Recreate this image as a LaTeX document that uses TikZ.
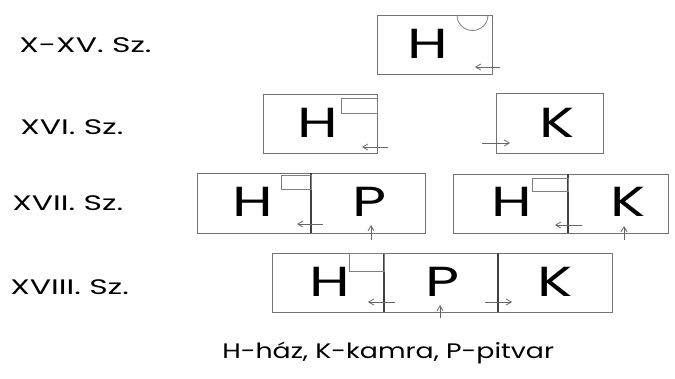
\documentclass[tikz,border=0pt]{standalone}
\usepackage{fontspec}
\setmainfont{Poppins}
\usetikzlibrary{arrows.meta}
\tikzset{
    room/.style={draw=black!55, line width=0.9pt, inner sep=0pt},
    letter/.style={inner sep=0pt, font=\fontsize{42}{42}\selectfont, xscale=1.4},
    nook/.style={draw=black!50, line width=0.8pt},
    wall/.style={draw=black!75, line width=1.1pt},
    door/.style={draw=black!60, line width=0.8pt, -{Straight Barb[length=5pt,width=6pt]}},
    era/.style={anchor=west, inner sep=0pt, font=\fontsize{21}{21}\selectfont, xscale=1.5},
}
\begin{document}
\begin{tikzpicture}[x=1pt,y=-1pt]
        \useasboundingbox (0,0) rectangle (675,378);
        % korszakok
        \node[era] (e1) at (19,45) {X-XV. Sz.};
        \node[era] (e2) at (20,127) {XVI. Sz.};
        \node[era] (e3) at (12,203) {XVII. Sz.};
        \node[era] (e4) at (10,287) {XVIII. Sz.};
        % X-XV.
        \node[room, minimum width=115, minimum height=59] (h1) at (434.5,44.5) {};
        \node[letter] (h1l) at (428,44) {H};
        \draw[nook] (457,15) arc[start angle=180, end angle=0, radius=15.5];
        \coordinate (d1) at (500,67);
        \draw[door] (d1) -- (475,67);
        % XVI.
        \node[room, minimum width=114, minimum height=59] (h2) at (320,123.5) {};
        \node[letter] (h2l) at (318,123) {H};
        \draw[nook] (341,98) rectangle (377,113);
        \coordinate (d2) at (388,147);
        \draw[door] (d2) -- (362,147);
        \node[room, minimum width=107, minimum height=60] (k2) at (549.5,123) {};
        \node[letter] (k2l) at (557,123) {K};
        \coordinate (d3) at (482,143);
        \draw[door] (d3) -- (510,143);
        % XVII.
        \node[room, minimum width=228, minimum height=60] (hp3) at (311,203) {};
        \draw[wall] (hp3.north) -- (hp3.south);
        \node[letter] (h3l) at (253,202) {H};
        \node[letter] (p3l) at (370,202) {P};
        \draw[nook] (281,175) rectangle (311,189);
        \coordinate (d4) at (323,224);
        \draw[door] (d4) -- (297,224);
        \coordinate (d5) at (371,240);
        \draw[door] (d5) -- (371,225);
        \node[room, minimum width=215, minimum height=59] (hk3) at (560.5,203.5) {};
        \draw[wall] (568,174) -- (568,233);
        \node[letter] (h4l) at (512,202) {H};
        \node[letter] (k3l) at (628,202) {K};
        \draw[nook] (532,178) rectangle (568,191);
        \coordinate (d6) at (582,225);
        \draw[door] (d6) -- (555,225);
        \coordinate (d7) at (624,240);
        \draw[door] (d7) -- (624,226);
        % XVIII.
        \node[room, minimum width=340, minimum height=59] (hpk4) at (442,282.5) {};
        \foreach \x in {384,498}
            \draw[wall] (\x,253) -- (\x,312);
        \node[letter] (h5l) at (330,282) {H};
        \node[letter] (p4l) at (443,282) {P};
        \node[letter] (k4l) at (555,282) {K};
        \draw[nook] (349,253) rectangle (384,271);
        \coordinate (d8) at (395,302);
        \draw[door] (d8) -- (368,302);
        \coordinate (d9) at (440,318);
        \draw[door] (d9) -- (440,305);
        \coordinate (d10) at (485,302);
        \draw[door] (d10) -- (512,302);
        % jelmagyarazat
        \node[era, xscale=0.85] (leg) at (222,353) {H-ház, K-kamra, P-pitvar};
    \end{tikzpicture}
\end{document}
